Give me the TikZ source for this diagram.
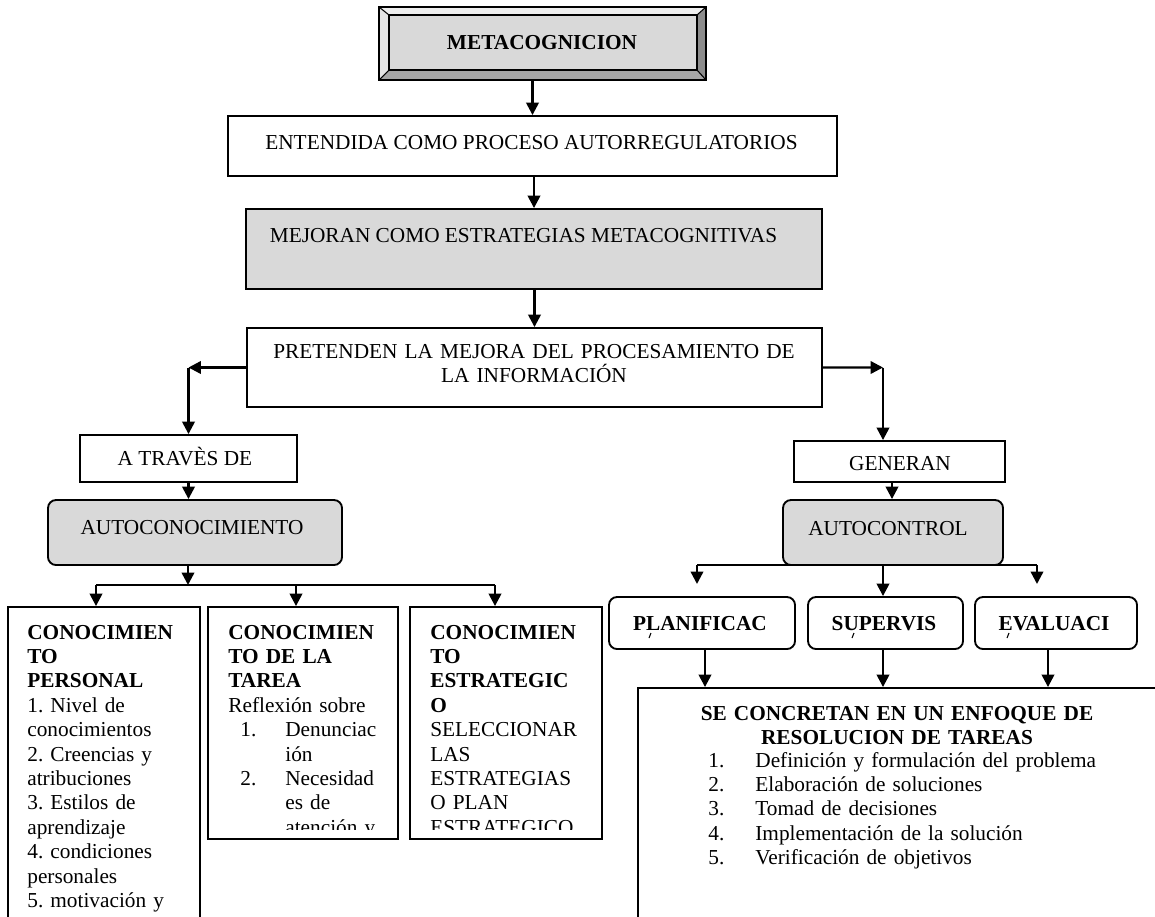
\documentclass[tikz,border=0pt]{standalone}
\usepackage{fontspec}
\setmainfont{Liberation Serif}
\usetikzlibrary{arrows.meta,fit}
\definecolor{boxgray}{HTML}{D9D9D9}
\definecolor{bevtop}{HTML}{EEEEEE}
\definecolor{bevleft}{HTML}{E4E4E4}
\definecolor{bevbot}{HTML}{A5A5A5}
\definecolor{bevright}{HTML}{8C8C8C}
\frenchspacing
\begin{document}
\frenchspacing
\begin{tikzpicture}[x=0.5634pt,y=-0.5634pt,
  box/.style={draw, line width=1.05pt, inner sep=0pt},
  gbox/.style={box, fill=boxgray},
  rbox/.style={box, rounded corners=4.5pt},
  arr/.style={line width=1.35pt, -{Triangle[length=7pt,width=7pt]}},
  conn/.style={line width=1.35pt},
  nf/.style={font=\fontsize{12}{13.75}\selectfont\frenchspacing},
  bf/.style={font=\fontsize{12}{13.75}\selectfont\bfseries\frenchspacing},
  txt/.style={inner sep=0pt, anchor=base},
  para/.style={inner sep=0pt, anchor=base west, align=left, text width=#1},
  ctr/.style={inner sep=0pt, anchor=base, align=center, text width=#1}]
\useasboundingbox (0,0) rectangle (1155,917);
\clip (0,0) rectangle (1155,917);

% ---- METACOGNICION bevel box
\fill[bevtop] (379,7) -- (706,7) -- (697,15) -- (389,15) -- cycle;
\fill[bevleft] (379,7) -- (389,15) -- (389,70) -- (379,80) -- cycle;
\fill[bevbot] (379,80) -- (706,80) -- (697,70) -- (389,70) -- cycle;
\fill[bevright] (706,7) -- (706,80) -- (697,70) -- (697,15) -- cycle;
\node[gbox, fit={(389,15) (697,70)}] (metain) {};
\node[box, fit={(379,7) (706,80)}] (meta) {};
\draw[line width=0.6pt] (379,7) -- (389,15) (706,7) -- (697,15) (379,80) -- (389,70) (706,80) -- (697,70);
\node[txt, bf] (metat) at (542,49) {METACOGNICION};

% ---- central column
\node[box, fit={(228,116) (837,176)}] (ent) {};
\node[txt, nf] (entt) at (531.5,149) {ENTENDIDA COMO PROCESO AUTORREGULATORIOS};
\node[gbox, fit={(246,209) (822,289)}] (mej) {};
\node[txt, nf] (mejt) at (523.5,242) {MEJORAN COMO ESTRATEGIAS METACOGNITIVAS};
\node[box, fit={(247,328) (822,407)}] (pre) {};
\node[ctr=330pt, nf] (pret) at (534,358) {PRETENDEN LA MEJORA DEL PROCESAMIENTO DE\\LA INFORMACIÓN};

% ---- left branch
\node[box, fit={(80,435) (297,482)}] (atr) {};
\node[txt, nf] (atrt) at (185,465) {A TRAVÈS DE};
\node[gbox, rbox, fit={(48,500) (342,565)}] (auto) {};
\node[txt, nf] (autot) at (192,534) {AUTOCONOCIMIENTO};

\node[box, fit={(8,607) (200,960)}] (b1) {};
\node[box, fit={(208,607) (398,839)}] (b2) {};
\node[box, fit={(410,607) (602,839)}] (b3) {};

\node[para=100pt, nf] (b1t) at (27,639) {\textbf{CONOCIMIEN}\\\textbf{TO}\\\textbf{PERSONAL}\\1. Nivel de\\conocimientos\\2. Creencias y\\atribuciones\\3. Estilos de\\aprendizaje\\4. condiciones\\personales\\5. motivación y};
\begin{scope}
\clip (208,607) rectangle (398,829);
\node[para=100pt, nf] (b2t) at (228,639) {\textbf{CONOCIMIEN}\\\textbf{TO DE LA}\\\textbf{TAREA}\\Reflexión sobre\\\hspace*{6.8pt}\makebox[25.3pt][l]{1.}Denunciac\\\hspace*{32.1pt}ión\\\hspace*{6.8pt}\makebox[25.3pt][l]{2.}Necesidad\\\hspace*{32.1pt}es de\\\hspace*{32.1pt}atención y};
\end{scope}
\begin{scope}
\clip (410,607) rectangle (602,829);
\node[para=100pt, nf] (b3t) at (430,639) {\textbf{CONOCIMIEN}\\\textbf{TO}\\\textbf{ESTRATEGIC}\\\textbf{O}\\SELECCIONAR\\LAS\\ESTRATEGIAS\\O PLAN\\ESTRATEGICO};
\end{scope}

% ---- right branch
\node[box, fit={(794,441) (1005,482)}] (gen) {};
\node[txt, nf] (gent) at (900,470) {GENERAN};
\node[gbox, rbox, fit={(783,500) (1003,565)}] (actrl) {};
\node[txt, nf] (actrlt) at (888,535) {AUTOCONTROL};

\node[rbox, fit={(609,597) (795,649)}] (plan) {};
\node[txt, bf] (plant) at (700,630) {PLANIFICAC};
\node[rbox, fit={(808,597) (963,649)}] (sup) {};
\node[txt, bf] (supt) at (884,630) {SUPERVIS};
\node[rbox, fit={(975,597) (1137,649)}] (eval) {};
\node[txt, bf] (evalt) at (1054,630) {EVALUACI};
\draw[line width=0.6pt] (651,633) -- (649,638) (854,633) -- (852,638) (1009,633) -- (1007,638);

\node[box, fit={(638,688) (1200,960)}] (big) {};
\node[ctr=250pt, bf] (bigt) at (897,720) {SE CONCRETAN EN UN ENFOQUE DE\\RESOLUCION DE TAREAS};
\node[para=260pt, nf] (bigl) at (708,767) {\makebox[26.5pt][l]{1.}Definición y formulación del problema\\\makebox[26.5pt][l]{2.}Elaboración de soluciones\\\makebox[26.5pt][l]{3.}Tomad de decisiones\\\makebox[26.5pt][l]{4.}Implementación de la solución\\\makebox[26.5pt][l]{5.}Verificación de objetivos};

% ---- connectors
\draw[arr] (meta.south -| ent.north) -- (ent.north);
\draw[arr] (ent.south -| mej.north) -- (mej.north);
\draw[arr] (mej.south -| pre.north) -- (pre.north);

\coordinate (L) at (pre.west -| atr.north);
\draw[arr] (pre.west) -- (L);
\draw[arr] (L) -- (atr.north);
\coordinate (R) at (883,367.5);
\draw[arr] (pre.east) -- (R);
\draw[arr] (R) -- (R |- gen.north);

\draw[arr] (atr.south) -- (atr.south |- auto.north);
\coordinate (j1) at (188,585);
\draw[arr] (j1 |- auto.south) -- (j1);
\coordinate (a1) at (96,585);
\coordinate (a2) at (296,585);
\coordinate (a3) at (495,585);
\draw[conn] (a1) -- (a3);
\draw[arr] (a1) -- (a1 |- b1.north);
\draw[arr] (a2) -- (a2 |- b2.north);
\draw[arr] (a3) -- (a3 |- b3.north);

\coordinate (g1) at (892,482);
\draw[arr] (g1) -- (g1 |- actrl.north);
\coordinate (c1) at (697,565);
\coordinate (c2) at (883,565);
\coordinate (c3) at (1037,565);
\coordinate (t1) at (697,584);
\coordinate (t3) at (1037,584);
\draw[conn] (c1) -- (c3);
\draw[arr] (c1) -- (t1);
\draw[arr] (c3) -- (t3);
\draw[arr] (c2) -- (c2 |- sup.north);

\coordinate (p1) at (705,649);
\coordinate (p2) at (883,649);
\coordinate (p3) at (1048,649);
\draw[arr] (p1) -- (p1 |- big.north);
\draw[arr] (p2) -- (p2 |- big.north);
\draw[arr] (p3) -- (p3 |- big.north);
\end{tikzpicture}
\end{document}
